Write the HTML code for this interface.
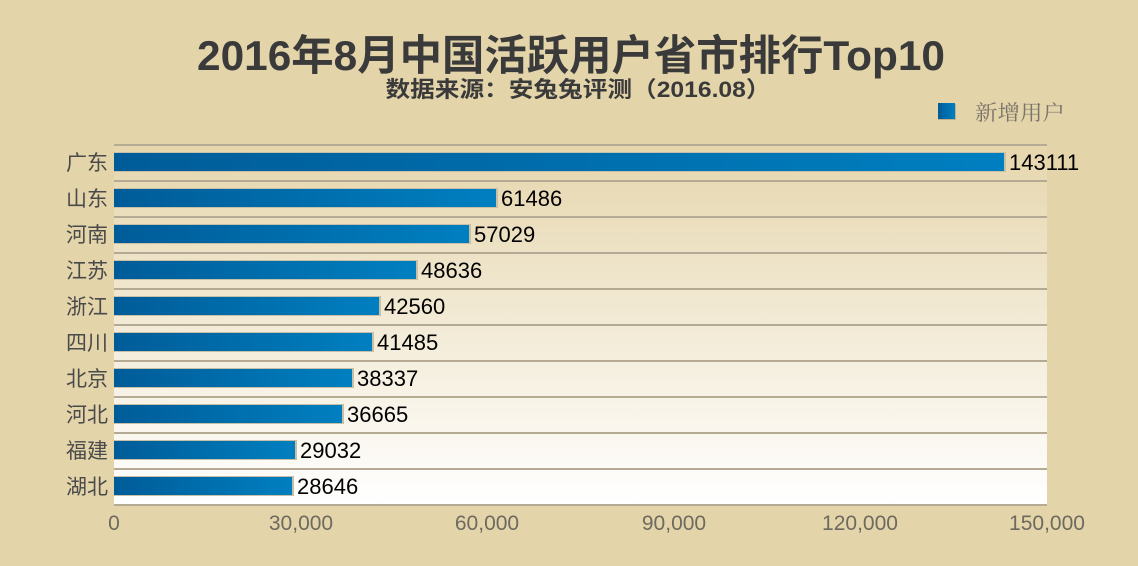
<!DOCTYPE html>
<html><head><meta charset="utf-8"><style>
html,body{margin:0;padding:0;background:#e3d4aa;}
svg{display:block;}
text{font-family:"Liberation Sans","Noto Sans CJK SC",sans-serif;}
.sf{font-family:"Liberation Serif","Noto Serif CJK SC",serif;}
</style></head><body>
<svg width="1138" height="566" viewBox="0 0 1138 566" xmlns="http://www.w3.org/2000/svg">
<defs>
<linearGradient id="bg" x1="0" y1="0" x2="0" y2="1">
<stop offset="0" stop-color="#e6d6ad"/><stop offset="1" stop-color="#ffffff"/>
</linearGradient>
<linearGradient id="bar" x1="0" y1="0" x2="1" y2="0">
<stop offset="0" stop-color="#005c98"/><stop offset="1" stop-color="#007fc0"/>
</linearGradient>
</defs>
<rect width="1138" height="566" fill="#e3d4aa"/>
<rect x="114" y="145" width="933" height="360" fill="url(#bg)"/>
<text x="571" y="70" text-anchor="middle" font-size="42" font-weight="bold" fill="#3a3a3a" textLength="748" lengthAdjust="spacingAndGlyphs">2016年8月中国活跃用户省市排行Top10</text>
<text x="578" y="97" text-anchor="middle" font-size="22" font-weight="bold" fill="#3a3a3a" textLength="385" lengthAdjust="spacingAndGlyphs">数据来源：安兔兔评测（2016.08）</text>
<rect x="938" y="104" width="18" height="16" fill="#bfb08a"/>
<rect x="938" y="103" width="17" height="16" fill="url(#bar)"/>
<text class="sf" x="975" y="120" font-size="21" fill="#7a7468" textLength="90" lengthAdjust="spacingAndGlyphs">新增用户</text>
<g stroke="#b5ab94" stroke-width="2">
<line x1="114" y1="145" x2="1047" y2="145"/><line x1="114" y1="181" x2="1047" y2="181"/>
<line x1="114" y1="217" x2="1047" y2="217"/><line x1="114" y1="253" x2="1047" y2="253"/>
<line x1="114" y1="289" x2="1047" y2="289"/><line x1="114" y1="325" x2="1047" y2="325"/>
<line x1="114" y1="361" x2="1047" y2="361"/><line x1="114" y1="397" x2="1047" y2="397"/>
<line x1="114" y1="433" x2="1047" y2="433"/><line x1="114" y1="469" x2="1047" y2="469"/>
<line x1="114" y1="505" x2="1047" y2="505"/>
</g>
<g class="sf" font-size="21" fill="#4a4a4a" text-anchor="end">
<text x="108" y="170">广东</text><text x="108" y="206">山东</text><text x="108" y="242">河南</text>
<text x="108" y="278">江苏</text><text x="108" y="314">浙江</text><text x="108" y="350">四川</text>
<text x="108" y="386">北京</text><text x="108" y="422">河北</text><text x="108" y="458">福建</text>
<text x="108" y="494">湖北</text>
</g>
<g>
<rect x="114" y="152" width="892" height="20" fill="#c9bfa4"/><rect x="114" y="153" width="890" height="18" fill="url(#bar)"/>
<rect x="114" y="188" width="384" height="20" fill="#c9bfa4"/><rect x="114" y="189" width="382" height="18" fill="url(#bar)"/>
<rect x="114" y="224" width="357" height="20" fill="#c9bfa4"/><rect x="114" y="225" width="355" height="18" fill="url(#bar)"/>
<rect x="114" y="260" width="304" height="20" fill="#c9bfa4"/><rect x="114" y="261" width="302" height="18" fill="url(#bar)"/>
<rect x="114" y="296" width="267" height="20" fill="#c9bfa4"/><rect x="114" y="297" width="265" height="18" fill="url(#bar)"/>
<rect x="114" y="332" width="260" height="20" fill="#c9bfa4"/><rect x="114" y="333" width="258" height="18" fill="url(#bar)"/>
<rect x="114" y="368" width="240" height="20" fill="#c9bfa4"/><rect x="114" y="369" width="238" height="18" fill="url(#bar)"/>
<rect x="114" y="404" width="230" height="20" fill="#c9bfa4"/><rect x="114" y="405" width="228" height="18" fill="url(#bar)"/>
<rect x="114" y="440" width="183" height="20" fill="#c9bfa4"/><rect x="114" y="441" width="181" height="18" fill="url(#bar)"/>
<rect x="114" y="476" width="180" height="20" fill="#c9bfa4"/><rect x="114" y="477" width="178" height="18" fill="url(#bar)"/>
</g>
<g font-size="22" fill="#000">
<text x="1009" y="170">143111</text><text x="501" y="206">61486</text><text x="474" y="242">57029</text>
<text x="421" y="278">48636</text><text x="384" y="314">42560</text><text x="377" y="350">41485</text>
<text x="357" y="386">38337</text><text x="347" y="422">36665</text><text x="300" y="458">29032</text>
<text x="297" y="494">28646</text>
</g>
<g font-size="21" fill="#6e6a60" text-anchor="middle">
<text x="114" y="530">0</text><text x="301" y="530">30,000</text><text x="487" y="530">60,000</text>
<text x="674" y="530">90,000</text><text x="860" y="530">120,000</text><text x="1047" y="530">150,000</text>
</g>
</svg>
</body></html>
